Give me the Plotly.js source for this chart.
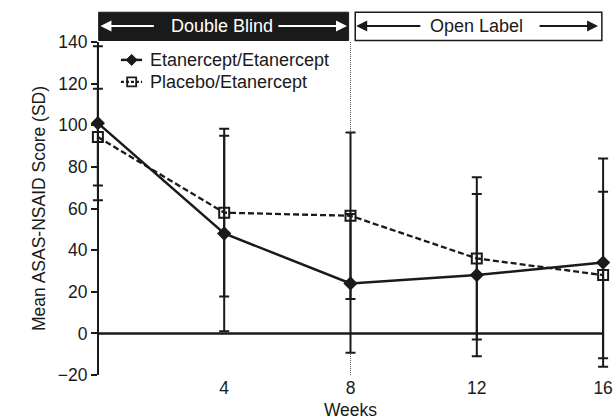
<!DOCTYPE html>
<html><head><meta charset="utf-8">
<script src="https://cdn.plot.ly/plotly-3.0.1.min.js"></script>
<style>html,body{margin:0;padding:0;background:#fff}#c{width:614px;height:420px}</style>
</head><body><div id="c"></div>
<script>
const weeks = [0, 4, 8, 12, 16];
const tickLabels = ['4', '8', '12', '16'];
const tickWeeks = [4, 8, 12, 16];
const etanMean = [101, 48, 24, 28, 34];
const etanSD = [37, 47, 33.3, 39, 50];
const placMean = [94.3, 58, 56.5, 36, 28];
const placSD = [23.2, 40.3, 40, 39, 40];
const seriesNames = ['Etanercept/Etanercept', 'Placebo/Etanercept'];
const phaseLabels = ['Double Blind', 'Open Label'];

const F = 'Liberation Sans, Arial, Helvetica, sans-serif';
const INK = '#1a1a1a';
const traces = [
  {x: weeks, y: etanMean, name: seriesNames[0], type: 'scatter', mode: 'lines+markers',
   line: {color: INK, width: 2.5},
   marker: {symbol: 'diamond', size: 11, color: INK},
   error_y: {type: 'data', array: etanSD, visible: true, color: INK, thickness: 2, width: 5},
   cliponaxis: false},
  {x: weeks, y: placMean, name: seriesNames[1], type: 'scatter', mode: 'lines+markers',
   line: {color: INK, width: 2.3, dash: '6px,3px'},
   marker: {symbol: 'square-open', size: 10, color: INK, line: {width: 2}},
   error_y: {type: 'data', array: placSD, visible: true, color: INK, thickness: 2, width: 5},
   cliponaxis: false}
];

const pad = 0.25;
const yTop = 1.0894, yBot = 1.0045, yMid = 1.048;
// legend key positions (week / score units)
const legRows = [131.4, 120.8];
const legLine = [0.73, 1.40], legMark = 1.07, legText = 1.66;
const shapes = [
  {type: 'rect', xref: 'x', yref: 'paper', x0: 0.025, x1: 7.94, y0: yBot, y1: yTop,
   fillcolor: INK, line: {color: INK, width: 1}},
  {type: 'rect', xref: 'x', yref: 'paper', x0: 8.15, x1: 15.96, y0: yBot, y1: yTop,
   fillcolor: '#fff', line: {color: INK, width: 1.5}},
  {type: 'line', xref: 'x', yref: 'y', x0: 8, x1: 8, y0: -20, y1: 140,
   line: {color: '#555', width: 1, dash: '1px,1px'}, layer: 'below'},
  {type: 'line', xref: 'x', yref: 'y', x0: 0, x1: 16, y0: 0, y1: 0,
   line: {color: INK, width: 2.5}, layer: 'below'},
  // legend keys
  {type: 'line', xref: 'x', yref: 'y', x0: legLine[0], x1: legLine[1], y0: legRows[0], y1: legRows[0],
   line: {color: INK, width: 2.5}},
  {type: 'path', xref: 'x', yref: 'y', xsizemode: 'pixel', ysizemode: 'pixel', xanchor: legMark, yanchor: legRows[0],
   path: 'M -5.5 0 L 0 5.5 L 5.5 0 L 0 -5.5 Z', fillcolor: INK, line: {color: INK, width: 1}},
  {type: 'line', xref: 'x', yref: 'y', x0: legLine[0], x1: legLine[1], y0: legRows[1], y1: legRows[1],
   line: {color: INK, width: 2.2, dash: '3px,2px'}},
  {type: 'path', xref: 'x', yref: 'y', xsizemode: 'pixel', ysizemode: 'pixel', xanchor: legMark, yanchor: legRows[1],
   path: 'M -4.5 -4.5 L 4.5 -4.5 L 4.5 4.5 L -4.5 4.5 Z', fillcolor: 'rgba(0,0,0,0)', line: {color: INK, width: 1.8}}
];

function arrow(tip, tail, col) {
  return {xref: 'x', yref: 'paper', x: tip, y: yMid, axref: 'x', ayref: 'pixel', ax: tail, ay: 0,
          text: '', showarrow: true, arrowhead: 2, arrowsize: 1.1, arrowwidth: 2, arrowcolor: col};
}
const annotations = [
  {xref: 'x', yref: 'paper', x: 3.93, y: yMid, text: phaseLabels[0], showarrow: false,
   font: {family: F, size: 18, color: '#fff'}, xanchor: 'center', yanchor: 'middle'},
  {xref: 'x', yref: 'paper', x: 12.0, y: yMid, text: phaseLabels[1], showarrow: false,
   font: {family: F, size: 18, color: INK}, xanchor: 'center', yanchor: 'middle'},
  arrow(0.08, 1.82, '#fff'), arrow(7.89, 5.67, '#fff'),
  arrow(8.18, 10.26, INK), arrow(15.84, 13.94, INK),
  {xref: 'x', yref: 'y', x: legText, y: legRows[0], text: seriesNames[0], showarrow: false,
   font: {family: F, size: 18, color: INK}, xanchor: 'left', yanchor: 'middle', xshift: -2},
  {xref: 'x', yref: 'y', x: legText, y: legRows[1], text: seriesNames[1], showarrow: false,
   font: {family: F, size: 18, color: INK}, xanchor: 'left', yanchor: 'middle', xshift: -2}
];

const layout = {
  width: 614, height: 420,
  margin: {l: 89.6, r: 3.1, t: 41.5, b: 45},
  paper_bgcolor: '#fff', plot_bgcolor: '#fff',
  font: {family: F, size: 17.5, color: INK},
  showlegend: false,
  xaxis: {range: [-pad, 16 + pad], showgrid: false, zeroline: false, showline: false, ticks: '',
          tickvals: tickWeeks, ticktext: tickLabels, tickfont: {size: 17.5},
          title: {text: 'Weeks', font: {size: 17.5}, standoff: 8}},
  yaxis: {range: [-20, 140], anchor: 'free', position: pad / (16 + 2 * pad),
          showgrid: false, zeroline: false,
          showline: true, linecolor: INK, linewidth: 2.5, ticks: 'outside', ticklen: 6, tickwidth: 2,
          tickcolor: INK, tickvals: [-20, 0, 20, 40, 60, 80, 100, 120, 140],
          ticktext: ['\u221220', '0', '20', '40', '60', '80', '100', '120', '140'], tickfont: {size: 17.5},
          title: {text: 'Mean ASAS-NSAID Score (SD)', font: {size: 17.5}, standoff: 6}},
  shapes: shapes, annotations: annotations
};
Plotly.newPlot('c', traces, layout, {displayModeBar: false, staticPlot: true});
</script></body></html>
